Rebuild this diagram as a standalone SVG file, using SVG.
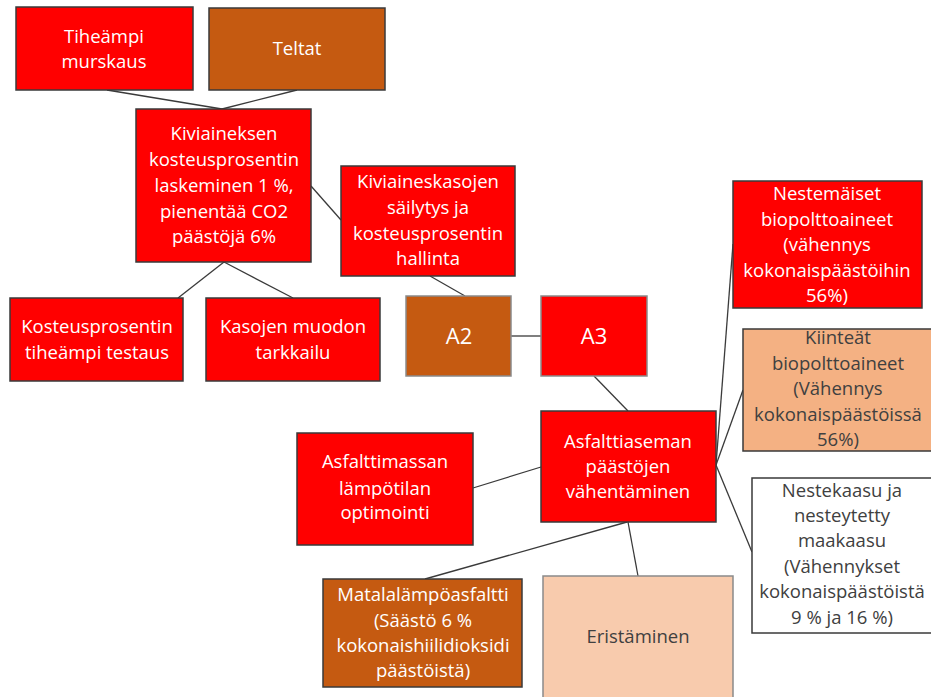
<svg xmlns="http://www.w3.org/2000/svg" width="931" height="697" viewBox="0 0 931 697">
  <style>
    .box { stroke: #3a3a3a; stroke-width: 1.5; }
    .soft { stroke: #8a8a8a; stroke-width: 1.5; }
    .red { fill: #ff0000; }
    .brown { fill: #c55a11; }
    .peach { fill: #f4b183; }
    .light { fill: #f8cbad; }
    .white { fill: #ffffff; }
    text { font-family: "Open Sans", "Liberation Sans", sans-serif; font-size: 18.5px; text-anchor: middle; }
    .wt { fill: #ffffff; }
    .dk { fill: #404040; }
    .big { font-size: 22px; }
    #connectors line { stroke: #3a3a3a; stroke-width: 1.3; }
  </style>
  <rect width="931" height="697" fill="#ffffff"/>

  <g id="connectors">
    <line x1="107" y1="90" x2="222" y2="109"/>
    <line x1="297" y1="90" x2="222" y2="109"/>
    <line x1="311" y1="186" x2="341" y2="220"/>
    <line x1="224" y1="262" x2="178" y2="298"/>
    <line x1="224" y1="262" x2="293" y2="298"/>
    <line x1="430" y1="276" x2="465" y2="296"/>
    <line x1="511" y1="336" x2="541" y2="336"/>
    <line x1="594" y1="376" x2="628" y2="411"/>
    <line x1="716" y1="465" x2="733" y2="244"/>
    <line x1="716" y1="465" x2="743" y2="390"/>
    <line x1="716" y1="465" x2="752" y2="552"/>
    <line x1="473" y1="488" x2="541" y2="467"/>
    <line x1="627" y1="522" x2="425" y2="579"/>
    <line x1="628" y1="522" x2="638" y2="576"/>
  </g>

  <g id="tiheampi-murskaus">
    <rect class="box red" x="16" y="7" width="177" height="83"/>
    <text class="wt" x="104" y="43">Tiheämpi</text>
    <text class="wt" x="104" y="68">murskaus</text>
  </g>

  <g id="teltat">
    <rect class="box brown" x="209" y="8" width="176" height="82"/>
    <text class="wt" x="297" y="55">Teltat</text>
  </g>

  <g id="kiviaineksen-kosteus">
    <rect class="box red" x="136" y="109" width="175" height="153"/>
    <text class="wt" x="224" y="140">Kiviaineksen</text>
    <text class="wt" x="224" y="166">kosteusprosentin</text>
    <text class="wt" x="224" y="192">laskeminen 1 %,</text>
    <text class="wt" x="224" y="218">pienentää CO2</text>
    <text class="wt" x="224" y="243">päästöjä 6%</text>
  </g>

  <g id="kiviaineskasojen-sailytys">
    <rect class="box red" x="341" y="166" width="174" height="110"/>
    <text class="wt" x="428" y="188">Kiviaineskasojen</text>
    <text class="wt" x="428" y="214">säilytys ja</text>
    <text class="wt" x="428" y="240">kosteusprosentin</text>
    <text class="wt" x="428" y="265">hallinta</text>
  </g>

  <g id="kosteusprosentin-testaus">
    <rect class="box red" x="10" y="298" width="173" height="83"/>
    <text class="wt" x="97" y="333">Kosteusprosentin</text>
    <text class="wt" x="97" y="359">tiheämpi testaus</text>
  </g>

  <g id="kasojen-muodon-tarkkailu">
    <rect class="box red" x="206" y="298" width="174" height="83"/>
    <text class="wt" x="293" y="333">Kasojen muodon</text>
    <text class="wt" x="293" y="359">tarkkailu</text>
  </g>

  <g id="a2">
    <rect class="soft brown" x="406" y="296" width="105" height="80"/>
    <text class="wt big" x="459" y="344">A2</text>
  </g>

  <g id="a3">
    <rect class="soft red" x="541" y="296" width="106" height="80"/>
    <text class="wt big" x="594" y="344">A3</text>
  </g>

  <g id="nestemaiset-biopolttoaineet">
    <rect class="box red" x="733" y="181" width="189" height="127"/>
    <text class="wt" x="827" y="200">Nestemäiset</text>
    <text class="wt" x="827" y="226">biopolttoaineet</text>
    <text class="wt" x="827" y="251">(vähennys</text>
    <text class="wt" x="827" y="277">kokonaispäästöihin</text>
    <text class="wt" x="827" y="302">56%)</text>
  </g>

  <g id="kiinteat-biopolttoaineet">
    <rect class="box peach" x="743" y="329" width="200" height="122"/>
    <text class="dk" x="838" y="344">Kiinteät</text>
    <text class="dk" x="838" y="370">biopolttoaineet</text>
    <text class="dk" x="838" y="395">(Vähennys</text>
    <text class="dk" x="838" y="421">kokonaispäästöissä</text>
    <text class="dk" x="838" y="446">56%)</text>
  </g>

  <g id="asfalttiaseman-paastot">
    <rect class="box red" x="541" y="411" width="175" height="111"/>
    <text class="wt" x="628" y="448">Asfalttiaseman</text>
    <text class="wt" x="628" y="473">päästöjen</text>
    <text class="wt" x="628" y="498">vähentäminen</text>
  </g>

  <g id="asfalttimassan-lampotila">
    <rect class="box red" x="297" y="433" width="176" height="112"/>
    <text class="wt" x="385" y="468">Asfalttimassan</text>
    <text class="wt" x="385" y="495">lämpötilan</text>
    <text class="wt" x="385" y="519">optimointi</text>
  </g>

  <g id="nestekaasu">
    <rect class="box white" x="752" y="478" width="190" height="155"/>
    <text class="dk" x="842" y="497">Nestekaasu ja</text>
    <text class="dk" x="842" y="522">nesteytetty</text>
    <text class="dk" x="842" y="547">maakaasu</text>
    <text class="dk" x="842" y="573">(Vähennykset</text>
    <text class="dk" x="842" y="598">kokonaispäästöistä</text>
    <text class="dk" x="842" y="624">9 % ja 16 %)</text>
  </g>

  <g id="matalalampoasfaltti">
    <rect class="box brown" x="323" y="579" width="199" height="108"/>
    <text class="wt" x="423" y="601">Matalalämpöasfaltti</text>
    <text class="wt" x="423" y="627">(Säästö 6 %</text>
    <text class="wt" x="423" y="652">kokonaishiilidioksidi</text>
    <text class="wt" x="423" y="677">päästöistä)</text>
  </g>

  <g id="eristaminen">
    <rect class="soft light" x="543" y="576" width="190" height="140"/>
    <text class="dk" x="638" y="643">Eristäminen</text>
  </g>
</svg>
